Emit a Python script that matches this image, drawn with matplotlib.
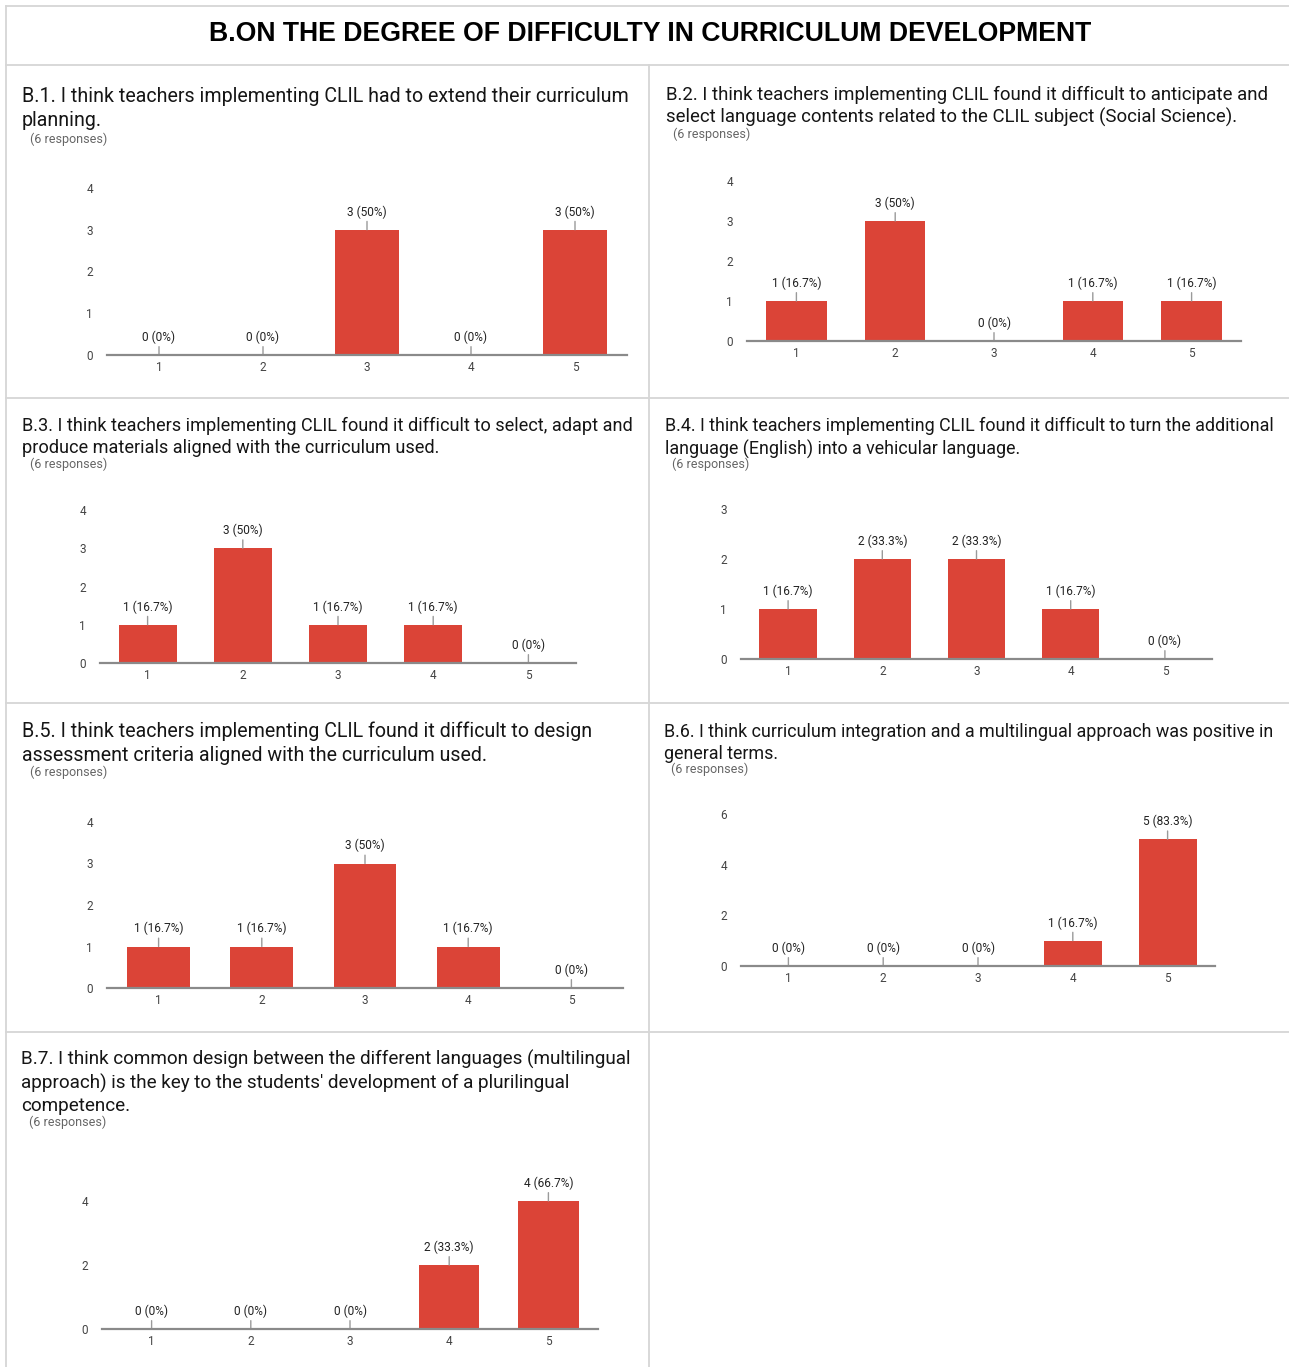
import matplotlib
matplotlib.use("Agg")
import matplotlib.pyplot as plt
from matplotlib.lines import Line2D

# answer scale 1..5, six respondents per question
scale = [1, 2, 3, 4, 5]
n_resp = 6

b1 = [0, 0, 3, 0, 3]
b2 = [1, 3, 0, 1, 1]
b3 = [1, 3, 1, 1, 0]
b4 = [1, 2, 2, 1, 0]
b5 = [1, 1, 3, 1, 0]
b6 = [0, 0, 0, 1, 5]
b7 = [0, 0, 0, 2, 4]

yticks1 = [0, 1, 2, 3, 4]
yticks4 = [0, 1, 2, 3]
yticks6 = [0, 2, 4, 6]
yticks7 = [0, 2, 4]

heading = "B.ON THE DEGREE OF DIFFICULTY IN CURRICULUM DEVELOPMENT"
q1 = "B.1. I think teachers implementing CLIL had to extend their curriculum\nplanning."
q2 = "B.2. I think teachers implementing CLIL found it difficult to anticipate and\nselect language contents related to the CLIL subject (Social Science)."
q3 = "B.3. I think teachers implementing CLIL found it difficult to select, adapt and\nproduce materials aligned with the curriculum used."
q4 = "B.4. I think teachers implementing CLIL found it difficult to turn the additional\nlanguage (English) into a vehicular language."
q5 = "B.5. I think teachers implementing CLIL found it difficult to design\nassessment criteria aligned with the curriculum used."
q6 = "B.6. I think curriculum integration and a multilingual approach was positive in\ngeneral terms."
q7 = "B.7. I think common design between the different languages (multilingual\napproach) is the key to the students' development of a plurilingual\ncompetence."
resp = "(6 responses)"

W, H = 1289, 1367
RED = "#db4437"
GRID = "#d6d6d6"

fig = plt.figure(figsize=(W / 100, H / 100), dpi=100)
fig.patch.set_facecolor("white")


def hline(y, x0, x1):
    fig.add_artist(Line2D([x0 / W, x1 / W], [1 - y / H, 1 - y / H], color=GRID, lw=1.3))


def vline(x, y0, y1):
    fig.add_artist(Line2D([x / W, x / W], [1 - y0 / H, 1 - y1 / H], color=GRID, lw=1.3))


# table borders
hline(6, 6, W)
hline(65, 6, W)
hline(398, 6, W)
hline(703, 6, W)
hline(1032, 6, W)
vline(6, 6, H)
vline(649, 65, H)

fig.text(650 / W, 1 - 34 / H, heading, ha="center", va="center",
         fontsize=19.2, fontweight="bold", family="Liberation Sans", color="black")


def fmt(v):
    p = round(v / n_resp * 100, 1)
    return "%d (%s%%)" % (v, ("%g" % p))


def panel(vals, yticks, text, fs, tx, ty, rx, ry, x0, x1, base, top):
    fig.text(tx / W, 1 - ty / H, text, ha="left", va="top", fontsize=fs,
             family="Roboto", color="#151515", linespacing=1.3)
    fig.text(rx / W, 1 - ry / H, resp, ha="left", va="center", fontsize=9.0,
             family="Roboto", color="#666666")
    ax = fig.add_axes([x0 / W, 1 - base / H, (x1 - x0) / W, (base - top) / H])
    ax.bar(scale, vals, width=0.61, color=RED, zorder=2)
    ax.set_xlim(0.5, 5.5)
    ax.set_ylim(0, yticks[-1])
    ax.set_xticks(scale)
    ax.set_yticks(yticks)
    for s in ["top", "right", "left"]:
        ax.spines[s].set_visible(False)
    ax.spines["bottom"].set_color("#8a8a8a")
    ax.spines["bottom"].set_linewidth(1.6)
    ax.spines["bottom"].set_zorder(3)
    ax.tick_params(length=0, labelsize=8.5, colors="#444444")
    ax.tick_params(axis="y", pad=10)
    ax.tick_params(axis="x", pad=4)
    for lab in ax.get_xticklabels() + ax.get_yticklabels():
        lab.set_family("Roboto")
    ax.patch.set_alpha(0)
    for x, v in zip(scale, vals):
        ax.annotate(fmt(v), xy=(x, v), xytext=(0, 8), textcoords="offset points",
                    ha="center", va="bottom", fontsize=8.6, family="Roboto",
                    color="#222222", annotation_clip=False,
                    arrowprops=dict(arrowstyle="-", color="#9a9a9a", lw=1,
                                    shrinkA=0, shrinkB=0))
    return ax


panel(b1, yticks1, q1, 14.1, 22, 87.5, 30, 139, 107, 627, 355, 188)
panel(b2, yticks1, q2, 13.4, 666, 85.5, 673, 134, 747, 1241, 341, 181)
panel(b3, yticks1, q3, 13.1, 22, 417, 30, 464, 100, 576, 663, 510)
panel(b4, yticks4, q4, 12.9, 665, 417, 672, 464, 741, 1212, 659, 509)
panel(b5, yticks1, q5, 14.1, 22, 721.5, 30, 772, 107, 623, 988, 822)
panel(b6, yticks6, q6, 12.9, 664, 722.5, 671, 769, 741, 1215, 966, 814)
panel(b7, yticks7, q7, 13.6, 21, 1050, 29, 1122, 102, 598, 1329, 1201)

fig.savefig("out.png", dpi=100, facecolor="white")
